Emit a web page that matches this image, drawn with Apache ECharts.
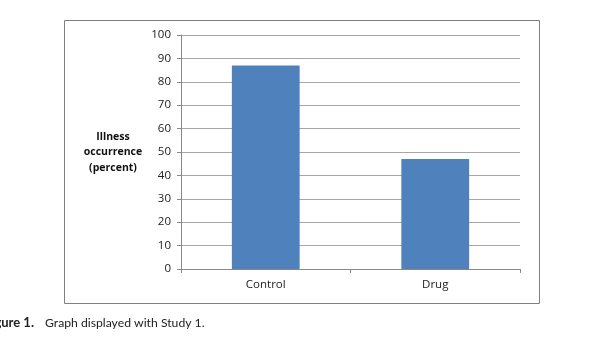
<!DOCTYPE html>
<html>
<head>
<meta charset="utf-8">
<script src="https://cdn.jsdelivr.net/npm/echarts@6/dist/echarts.min.js"></script>
<style>
  html, body { margin: 0; padding: 0; background: #fff; }
  #chart { width: 615px; height: 346px; }
</style>
</head>
<body>
<div id="chart"></div>
<script>
// Illness occurrence by group
const categories = ['Control', 'Drug'];
const occurrence = [87, 47];
const yTicks = [0, 10, 20, 30, 40, 50, 60, 70, 80, 90, 100];

const chart = echarts.init(document.getElementById('chart'), null, { renderer: 'canvas' });

const labelFont = '"Open Sans", "DejaVu Sans", sans-serif';
const captionFont = '"Lato", "DejaVu Sans", sans-serif';

chart.setOption({
  animation: false,
  backgroundColor: '#ffffff',
  grid: { left: 181, right: 95, top: 35, bottom: 77 },
  xAxis: {
    type: 'category',
    data: categories,
    axisLine: { show: true, lineStyle: { color: '#888', width: 1 } },
    axisTick: { show: true, length: 4, lineStyle: { color: '#888' } },
    axisLabel: { color: '#222', fontFamily: labelFont, fontSize: 11.5, margin: 10 }
  },
  yAxis: {
    type: 'value',
    min: yTicks[0],
    max: yTicks[yTicks.length - 1],
    interval: 10,
    axisLine: { show: true, lineStyle: { color: '#888', width: 1 } },
    axisTick: { show: true, inside: false, length: 4, lineStyle: { color: '#888' } },
    axisLabel: { color: '#222', fontFamily: labelFont, fontSize: 11.5, margin: 10 },
    splitLine: { show: true, lineStyle: { color: '#a6a6a6', width: 1 } }
  },
  series: [{
    type: 'bar',
    data: occurrence,
    barWidth: '40%',
    itemStyle: { color: '#4f81bd' }
  }],
  graphic: [
    // chart frame
    {
      type: 'rect',
      shape: { x: 64.5, y: 20.5, width: 475, height: 283 },
      style: { fill: null, stroke: '#7f7f7f', lineWidth: 1 },
      z: 100
    },
    // y-axis title
    {
      type: 'text',
      x: 113, y: 129,
      style: {
        text: 'Illness\noccurrence\n(percent)',
        align: 'center',
        verticalAlign: 'top',
        fontFamily: labelFont,
        fontSize: 10.5,
        fontWeight: 'bold',
        lineHeight: 15.5,
        fill: '#111'
      }
    },
    // figure caption: label and text
    {
      type: 'text',
      x: 34, y: 323,
      style: {
        text: 'Figure 1.',
        align: 'right',
        verticalAlign: 'middle',
        fontFamily: captionFont,
        fontSize: 13,
        fontWeight: 'bold',
        fill: '#222'
      }
    },
    {
      type: 'text',
      x: 45, y: 323,
      style: {
        text: 'Graph displayed with Study 1.',
        align: 'left',
        verticalAlign: 'middle',
        fontFamily: captionFont,
        fontSize: 12.2,
        fill: '#222'
      }
    }
  ]
});
</script>
</body>
</html>
